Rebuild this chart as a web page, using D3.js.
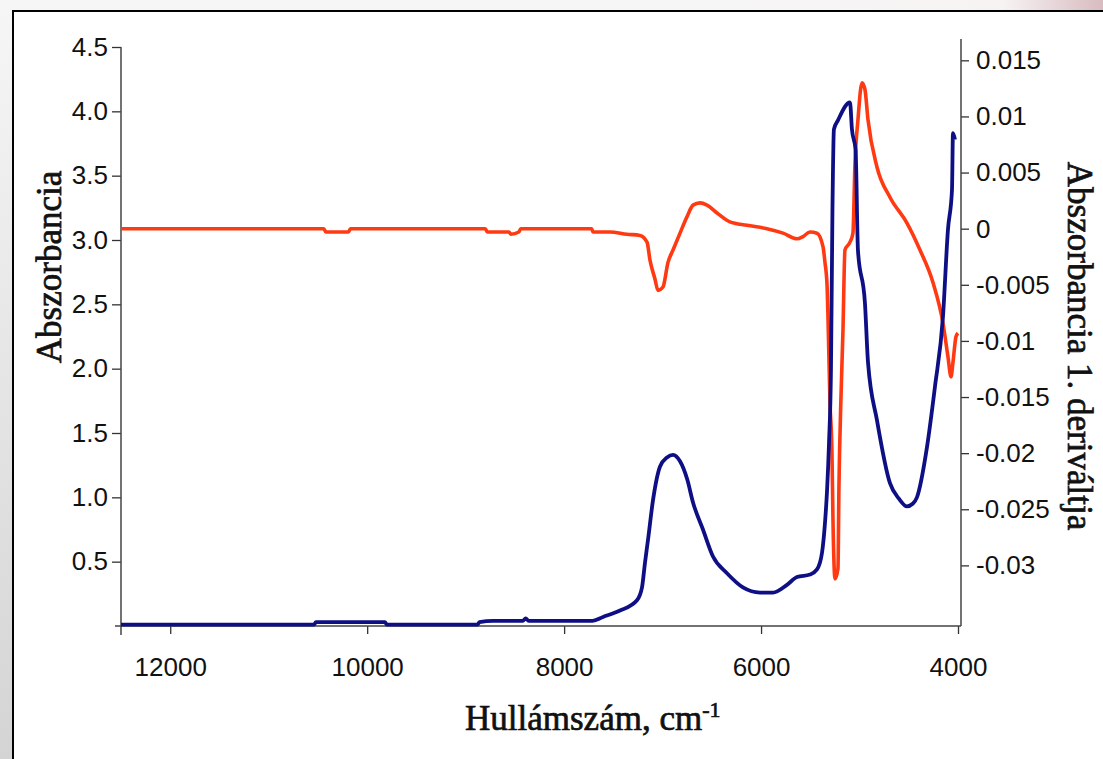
<!DOCTYPE html>
<html lang="hu">
<head>
    <meta charset="UTF-8">
    <title>Abszorbancia spektrum</title>
    <script src="https://d3js.org/d3.v7.min.js"></script>
    <style>
        body { margin: 0; background: #f4f4f4; }
        .tick text { font-family: "Liberation Sans", Arial, sans-serif; font-size: 26px; fill: #111; }
        .tick line { stroke: #333; stroke-width: 1.3; }
        .axis-line { stroke: #444; stroke-width: 1.5; }
        .title { font-family: "Liberation Serif", "Times New Roman", serif; font-size: 35px; fill: #111;
                 stroke: #111; stroke-width: 0.7px; }
    </style>
</head>
<body>
<div id="chart"></div>
<script>
    // hullámszám (cm-1) és abszorbancia
    const absWave = [12500, 10540, 10520, 9820, 9800, 8880, 8860, 8720, 8420, 8390, 8360, 7710, 7605, 7433,
        7260, 7209, 7179, 7148, 7097, 7026, 6955, 6894, 6823, 6750, 6691, 6590, 6488, 6346, 6184, 6011,
        5879, 5737, 5635, 5503, 5432, 5381, 5351, 5330, 5310, 5290, 5275, 5260, 5219, 5097, 5077, 5040,
        5016, 4945, 4914, 4823, 4691, 4600, 4518, 4460, 4417, 4315, 4234, 4153, 4102, 4061, 4051, 4031];
    const absValues = [0.01, 0.01, 0.03, 0.03, 0.01, 0.01, 0.03, 0.04, 0.04, 0.06, 0.04, 0.04, 0.07, 0.12,
        0.20, 0.30, 0.49, 0.67, 0.98, 1.24, 1.31, 1.33, 1.28, 1.14, 0.96, 0.75, 0.54, 0.41, 0.30, 0.26,
        0.26, 0.32, 0.38, 0.40, 0.44, 0.57, 0.80, 1.05, 1.42, 2.0, 3.23, 3.86, 3.93, 4.07, 3.86, 3.70,
        2.92, 2.51, 2.05, 1.60, 1.11, 0.99, 0.93, 0.95, 1.00, 1.39, 1.86, 2.40, 3.08, 3.39, 3.83, 3.78];

    // első derivált
    const derWave = [12500, 10440, 10420, 10190, 10170, 8800, 8780, 8560, 8540, 8460, 8440, 7720, 7707, 7534,
        7362, 7230, 7158, 7128, 7077, 7047, 6996, 6945, 6894, 6823, 6750, 6691, 6620, 6549, 6447, 6316,
        6143, 5940, 5777, 5635, 5574, 5503, 5432, 5371, 5351, 5330, 5320, 5300, 5280, 5270, 5249, 5219,
        5209, 5188, 5168, 5148, 5097, 5067, 5046, 5016, 4975, 4945, 4914, 4823, 4691, 4518, 4386, 4254,
        4153, 4102, 4071, 4051, 4020, 4000];
    const derValues = [0, 0, -0.0003, -0.0003, 0, 0, -0.0003, -0.0003, -0.0005, -0.0003, 0, 0, -0.0003, -0.0003,
        -0.0005, -0.0006, -0.0012, -0.0028, -0.0045, -0.0055, -0.0052, -0.0030, -0.0019, -0.0004, 0.0011, 0.0021, 0.0023, 0.0021, 0.0014, 0.0006,
        0.0003, 0, -0.0004, -0.0009, -0.0007, -0.0003, -0.0004, -0.0016, -0.0030, -0.0050, -0.0080, -0.0155, -0.0199, -0.0258, -0.0312, -0.0303,
        -0.0230, -0.0149, -0.0090, -0.0019, -0.0012, -0.0004, 0.0059, 0.0097, 0.0130, 0.0124, 0.0097, 0.0055, 0.0028, 0.0005, -0.0019, -0.0048,
        -0.0084, -0.0114, -0.0132, -0.0119, -0.0096, -0.0093];

    const xTicks = [12000, 10000, 8000, 6000, 4000];
    const leftTicks = [0.5, 1.0, 1.5, 2.0, 2.5, 3.0, 3.5, 4.0, 4.5];
    const rightTicks = [0.015, 0.01, 0.005, 0, -0.005, -0.01, -0.015, -0.02, -0.025, -0.03];

    const width = 1103, height = 759;
    const svg = d3.select("#chart").append("svg")
        .attr("width", width).attr("height", height);

    // háttér
    const defs = svg.append("defs");
    const topGrad = defs.append("linearGradient").attr("id", "topGrad");
    topGrad.append("stop").attr("offset", "0%").attr("stop-color", "#f6f6f6");
    topGrad.append("stop").attr("offset", "80%").attr("stop-color", "#f7f3f3");
    topGrad.append("stop").attr("offset", "100%").attr("stop-color", "#d8bcc1");
    const leftGrad = defs.append("linearGradient").attr("id", "leftGrad")
        .attr("x1", 0).attr("y1", 0).attr("x2", 0).attr("y2", 1);
    leftGrad.append("stop").attr("offset", "0%").attr("stop-color", "#f6f6f6");
    leftGrad.append("stop").attr("offset", "100%").attr("stop-color", "#d4d4d4");

    svg.append("rect").attr("width", width).attr("height", height).attr("fill", "url(#leftGrad)");
    svg.append("rect").attr("x", 600).attr("width", width - 600).attr("height", 12).attr("fill", "url(#topGrad)");
    svg.append("rect").attr("x", 13).attr("y", 11).attr("width", 1110).attr("height", 770)
        .attr("fill", "#fff").attr("stroke", "#000").attr("stroke-width", 2);

    // skálák
    const x = d3.scaleLinear().domain([12500, 4000]).range([121, 958]);
    const yL = d3.scaleLinear().domain([0, 4.5]).range([626, 47]);
    const yR = d3.scaleLinear().domain([-0.0354, 0.0169]).range([626, 39]);

    // tengelyek
    svg.append("g").attr("transform", "translate(0,626)")
        .call(d3.axisBottom(x).tickValues(xTicks).tickSize(8).tickSizeOuter(0).tickPadding(24).tickFormat(d3.format("d")))
        .call(g => g.select(".domain").remove());
    svg.append("g").attr("transform", "translate(121,0)")
        .call(d3.axisLeft(yL).tickValues(leftTicks).tickSize(9).tickSizeOuter(0).tickPadding(4).tickFormat(d3.format(".1f")))
        .call(g => g.select(".domain").remove());
    svg.append("g").attr("transform", "translate(961,0)")
        .call(d3.axisRight(yR).tickValues(rightTicks).tickSize(8).tickSizeOuter(0).tickPadding(7)
            .tickFormat(d => d === 0 ? "0" : String(+d.toFixed(3))))
        .call(g => g.select(".domain").remove());

    svg.append("line").attr("class", "axis-line").attr("x1", 115).attr("x2", 961).attr("y1", 626).attr("y2", 626);
    svg.append("line").attr("class", "axis-line").attr("x1", 121).attr("x2", 121).attr("y1", 47).attr("y2", 635);
    svg.append("line").attr("class", "axis-line").attr("x1", 961).attr("x2", 961).attr("y1", 39).attr("y2", 626);

    // görbék
    const absLine = d3.line().x((d, i) => x(absWave[i])).y(d => yL(d)).curve(d3.curveMonotoneX);
    const derLine = d3.line().x((d, i) => x(derWave[i])).y(d => yR(d)).curve(d3.curveMonotoneX);

    svg.append("path").datum(derValues)
        .attr("d", derLine)
        .attr("fill", "none").attr("stroke", "#ff3a12").attr("stroke-width", 3.6)
        .attr("stroke-linejoin", "round");
    svg.append("path").datum(absValues)
        .attr("d", absLine)
        .attr("fill", "none").attr("stroke", "#0f0f85").attr("stroke-width", 3.8)
        .attr("stroke-linejoin", "round");

    // címek
    const xt = svg.append("text").attr("class", "title").attr("x", 465).attr("y", 730);
    xt.append("tspan").text("Hullámszám, cm");
    xt.append("tspan").attr("font-size", 22).attr("dy", -13).text("-1");

    svg.append("text").attr("class", "title")
        .attr("text-anchor", "middle")
        .attr("transform", "translate(61,267) rotate(-90)")
        .text("Abszorbancia");

    svg.append("text").attr("class", "title")
        .attr("text-anchor", "middle")
        .attr("transform", "translate(1068,346) rotate(90)")
        .text("Abszorbancia 1. deriváltja");
</script>
</body>
</html>
